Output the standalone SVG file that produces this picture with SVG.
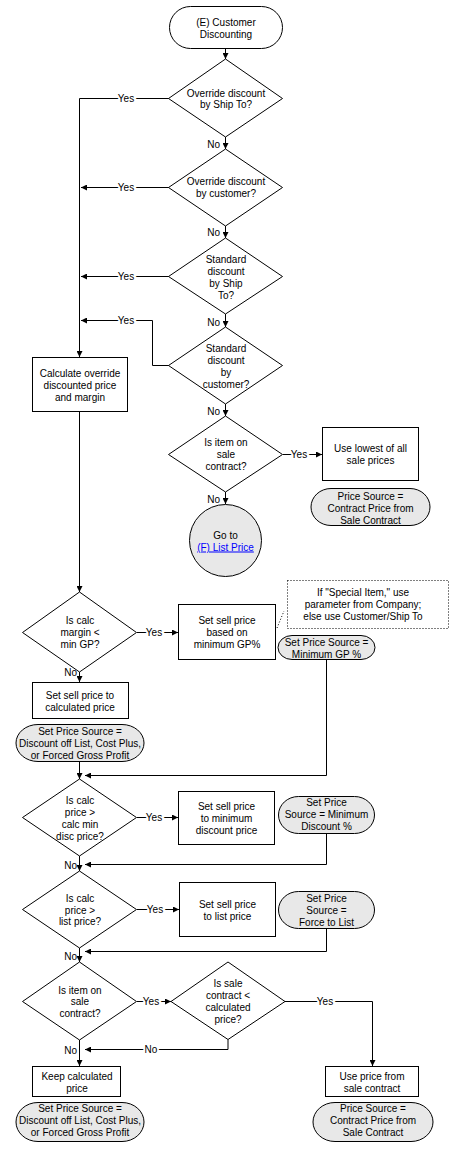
<svg xmlns="http://www.w3.org/2000/svg" width="459" height="1150" viewBox="0 0 459 1150">
<style>
.t{font-family:"Liberation Sans",Arial,sans-serif;font-size:10px;text-anchor:middle;fill:#000}
.l{font-family:"Liberation Sans",Arial,sans-serif;font-size:10px;text-anchor:middle;fill:#000;stroke:#fff;stroke-width:4px;paint-order:stroke}
.le{text-anchor:end}
.s{fill:#fff;stroke:#000;stroke-width:1}
.g{fill:#e8e8e8;stroke:#000;stroke-width:1}
.c{fill:none;stroke:#000;stroke-width:1}
.d{fill:none;stroke:#000;stroke-width:1;stroke-dasharray:1,2}
.a{fill:none;stroke:#000;stroke-width:1;marker-end:url(#ah)}
.lnk{fill:#0000ff;text-decoration:underline}
</style>
<defs>
<marker id="ah" markerWidth="6" markerHeight="6" refX="6" refY="3" orient="auto" markerUnits="userSpaceOnUse">
<path d="M0,0 L6,3 L0,6 z" fill="#000"/>
</marker>
</defs>
<rect width="459" height="1150" fill="#fff"/>

<g id="connectors">
<path class="a" d="M225.5,48 V59"/>
<path class="a" d="M225.5,137 V149"/>
<path class="a" d="M225.5,226 V238"/>
<path class="a" d="M225.5,314 V327"/>
<path class="a" d="M225.5,404 V416"/>
<path class="a" d="M225.5,492 V504"/>
<path class="a" d="M169,98.5 H79.5 V357"/>
<path class="a" d="M169,187.5 H81"/>
<path class="a" d="M169,276.5 H81"/>
<path class="a" d="M169,365.5 H152.5 V320.5 H81"/>
<path class="a" d="M79.5,412 V592"/>
<path class="a" d="M283,454.5 H322"/>
<path class="a" d="M137,632.5 H178"/>
<path class="a" d="M79.5,672 V682"/>
<path class="a" d="M326.5,660 V775.5 H85"/>
<path class="a" d="M79.5,762 V779"/>
<path class="a" d="M137,817.5 H178"/>
<path class="a" d="M79.5,856 V871"/>
<path class="a" d="M326.5,834 V864.5 H85"/>
<path class="a" d="M137,909.5 H179"/>
<path class="a" d="M79.5,948 V962"/>
<path class="a" d="M326.5,929 V951.5 H85"/>
<path class="a" d="M137,1001.5 H171"/>
<path class="a" d="M285,1001.5 H372.5 V1066"/>
<path class="a" d="M228,1039.5 V1049.5 H85"/>
<path class="a" d="M79.5,1040 V1066"/>
<path class="d" d="M277,628 L284,611"/>
<text class="l" x="126" y="102">Yes</text>
<text class="l" x="126" y="191">Yes</text>
<text class="l" x="126" y="280">Yes</text>
<text class="l" x="126" y="324">Yes</text>
<text class="l" x="299" y="458">Yes</text>
<text class="l" x="154" y="636">Yes</text>
<text class="l" x="154" y="821">Yes</text>
<text class="l" x="155" y="913">Yes</text>
<text class="l" x="151" y="1005">Yes</text>
<text class="l" x="325" y="1005">Yes</text>
<text class="l" x="151" y="1053">No</text>
<text class="t le" x="220" y="147.5">No</text>
<text class="t le" x="220" y="235.5">No</text>
<text class="t le" x="220" y="325.5">No</text>
<text class="t le" x="220" y="415">No</text>
<text class="t le" x="220" y="502.5">No</text>
<text class="t le" x="77" y="676">No</text>
<text class="t le" x="77" y="869">No</text>
<text class="t le" x="77" y="959.5">No</text>
<text class="t le" x="77" y="1053.5">No</text>
</g>

<g id="start">
<rect class="s" x="169.5" y="6.5" width="113" height="42" rx="21" ry="21"/>
<text class="t" x="226" y="25.5">(E) Customer</text>
<text class="t" x="226" y="37.5">Discounting</text>
</g>
<g id="d1">
<polygon class="s" points="225.5,59 282.5,98.5 225.5,137 168.5,98.5"/>
<text class="t" x="226" y="96.5">Override discount</text>
<text class="t" x="226" y="108">by Ship To?</text>
</g>
<g id="d2">
<polygon class="s" points="225.5,149 282.5,187.5 225.5,226 168.5,187.5"/>
<text class="t" x="226" y="185">Override discount</text>
<text class="t" x="226" y="197">by customer?</text>
</g>
<g id="d3">
<polygon class="s" points="225.5,238 282.5,276.5 225.5,314 168.5,276.5"/>
<text class="t" x="226" y="262.5">Standard</text>
<text class="t" x="226" y="274.5">discount</text>
<text class="t" x="226" y="286.5">by Ship</text>
<text class="t" x="226" y="298.5">To?</text>
</g>
<g id="d4">
<polygon class="s" points="225.5,327 282.5,365.5 225.5,404 168.5,365.5"/>
<text class="t" x="226" y="351.5">Standard</text>
<text class="t" x="226" y="363.5">discount</text>
<text class="t" x="226" y="375.5">by</text>
<text class="t" x="226" y="387.5">customer?</text>
</g>
<g id="calcOverride">
<rect class="s" x="32.5" y="357.5" width="95" height="54"/>
<text class="t" x="80" y="376.5">Calculate override</text>
<text class="t" x="80" y="388.5">discounted price</text>
<text class="t" x="80" y="400.5">and margin</text>
</g>
<g id="d5">
<polygon class="s" points="225.5,416 282.5,454.5 225.5,492 168.5,454.5"/>
<text class="t" x="226" y="446">Is item on</text>
<text class="t" x="226" y="458">sale</text>
<text class="t" x="226" y="470">contract?</text>
</g>
<g id="useLowest">
<rect class="s" x="322.5" y="427.5" width="96" height="53"/>
<text class="t" x="370.5" y="452">Use lowest of all</text>
<text class="t" x="370.5" y="464">sale prices</text>
</g>
<g id="ps1">
<rect class="g" x="311" y="488.5" width="119" height="37" rx="20" ry="18.5"/>
<text class="t" x="370.5" y="499.5">Price Source =</text>
<text class="t" x="370.5" y="511.5">Contract Price from</text>
<text class="t" x="370.5" y="523.5">Sale Contract</text>
</g>
<g id="gotoList">
<circle class="g" cx="225.5" cy="540.5" r="36"/>
<text class="t" x="225.5" y="538.5">Go to</text>
<text class="t lnk" x="225.5" y="550.5">(F) List Price</text>
</g>
<g id="d6">
<polygon class="s" points="79.5,592 136.5,632.5 79.5,672 22.5,632.5"/>
<text class="t" x="80" y="623.5">Is calc</text>
<text class="t" x="80" y="635.5">margin &lt;</text>
<text class="t" x="80" y="647.5">min GP?</text>
</g>
<g id="setMinGP">
<rect class="s" x="178.5" y="604.5" width="97" height="55"/>
<text class="t" x="227" y="623.5">Set sell price</text>
<text class="t" x="227" y="635.5">based on</text>
<text class="t" x="227" y="647.5">minimum GP%</text>
</g>
<g id="note">
<rect class="d" x="287.5" y="580.5" width="161" height="48"/>
<text class="t" x="363" y="596">If "Special Item," use</text>
<text class="t" x="363" y="608">parameter from Company;</text>
<text class="t" x="363" y="620">else use Customer/Ship To</text>
</g>
<g id="psMinGP">
<rect class="g" x="278" y="635.5" width="97" height="24" rx="14" ry="12"/>
<text class="t" x="326.5" y="645.5">Set Price Source =</text>
<text class="t" x="326.5" y="657.5">Minimum GP %</text>
</g>
<g id="setCalc">
<rect class="s" x="32.5" y="682.5" width="96" height="36"/>
<text class="t" x="80" y="698.5">Set sell price to</text>
<text class="t" x="80" y="710.5">calculated price</text>
</g>
<g id="psCalc1">
<rect class="g" x="16" y="724.5" width="128" height="37" rx="22" ry="18.5"/>
<text class="t" x="80" y="734.5">Set Price Source =</text>
<text class="t" x="80" y="746.5">Discount off List, Cost Plus,</text>
<text class="t" x="80" y="758.5">or Forced Gross Profit</text>
</g>
<g id="d7">
<polygon class="s" points="79.5,779 136.5,817.5 79.5,856 22.5,817.5"/>
<text class="t" x="80" y="803.5">Is calc</text>
<text class="t" x="80" y="815.5">price &gt;</text>
<text class="t" x="80" y="827.5">calc min</text>
<text class="t" x="80" y="839.5">disc price?</text>
</g>
<g id="setMinDisc">
<rect class="s" x="178.5" y="791.5" width="96" height="53"/>
<text class="t" x="226.5" y="809.5">Set sell price</text>
<text class="t" x="226.5" y="821.5">to minimum</text>
<text class="t" x="226.5" y="833.5">discount price</text>
</g>
<g id="psMinDisc">
<rect class="g" x="278.5" y="796.5" width="96" height="37" rx="20" ry="18.5"/>
<text class="t" x="326.5" y="806">Set Price</text>
<text class="t" x="326.5" y="818">Source = Minimum</text>
<text class="t" x="326.5" y="830">Discount %</text>
</g>
<g id="d8">
<polygon class="s" points="79.5,871 136.5,909.5 79.5,948 22.5,909.5"/>
<text class="t" x="80" y="902">Is calc</text>
<text class="t" x="80" y="913.5">price &gt;</text>
<text class="t" x="80" y="925">list price?</text>
</g>
<g id="setList">
<rect class="s" x="179.5" y="882.5" width="96" height="54"/>
<text class="t" x="227.5" y="907.5">Set sell price</text>
<text class="t" x="227.5" y="919.5">to list price</text>
</g>
<g id="psForce">
<rect class="g" x="278.5" y="891.5" width="96" height="37" rx="20" ry="18.5"/>
<text class="t" x="326.5" y="902">Set Price</text>
<text class="t" x="326.5" y="914">Source =</text>
<text class="t" x="326.5" y="926">Force to List</text>
</g>
<g id="d9">
<polygon class="s" points="79.5,962 136.5,1001.5 79.5,1040 22.5,1001.5"/>
<text class="t" x="80" y="993.5">Is item on</text>
<text class="t" x="80" y="1005">sale</text>
<text class="t" x="80" y="1017">contract?</text>
</g>
<g id="d10">
<polygon class="s" points="228,962 285,1001.5 228,1039.5 171,1001.5"/>
<text class="t" x="228" y="987">Is sale</text>
<text class="t" x="228" y="999">contract &lt;</text>
<text class="t" x="228" y="1011">calculated</text>
<text class="t" x="228" y="1023">price?</text>
</g>
<g id="keepCalc">
<rect class="s" x="32.5" y="1066.5" width="88" height="30"/>
<text class="t" x="77" y="1079.5">Keep calculated</text>
<text class="t" x="77" y="1091.5">price</text>
</g>
<g id="psCalc2">
<rect class="g" x="16" y="1102.5" width="128" height="39" rx="22" ry="19.5"/>
<text class="t" x="80" y="1112">Set Price Source =</text>
<text class="t" x="80" y="1124">Discount off List, Cost Plus,</text>
<text class="t" x="80" y="1136">or Forced Gross Profit</text>
</g>
<g id="useContract">
<rect class="s" x="325.5" y="1066.5" width="93" height="30"/>
<text class="t" x="372" y="1079.5">Use price from</text>
<text class="t" x="372" y="1091.5">sale contract</text>
</g>
<g id="psContract">
<rect class="g" x="313" y="1102.5" width="120" height="39" rx="22" ry="19.5"/>
<text class="t" x="373" y="1112">Price Source =</text>
<text class="t" x="373" y="1124">Contract Price from</text>
<text class="t" x="373" y="1136">Sale Contract</text>
</g>
</svg>
